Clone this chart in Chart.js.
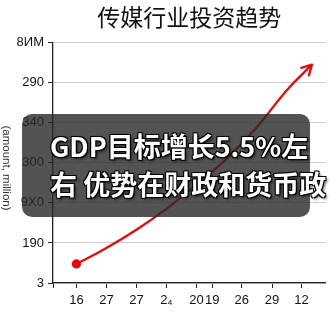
<!DOCTYPE html>
<html><head><meta charset="utf-8">
<script src="https://cdn.jsdelivr.net/npm/chart.js@4/dist/chart.umd.min.js"></script>
<style>
html,body{margin:0;padding:0;background:#fff;}
#wrap{position:relative;width:332px;height:332px;overflow:hidden;background:#fff;}
canvas{position:absolute;left:0;top:0;}
#box{position:absolute;left:22px;top:114px;width:288px;height:103px;border-radius:10px;background:rgba(40,40,40,0.8);}
#txt{position:absolute;left:50px;top:127px;font-family:"Noto Sans CJK SC";font-weight:bold;font-size:27px;line-height:38px;color:#fff;white-space:nowrap;
text-shadow:0 0 2px #000,1px 1px 0 #000,-1px -1px 0 #000,1px -1px 0 #000,-1px 1px 0 #000,2px 2px 3px rgba(0,0,0,.6);}
</style></head>
<body><div id="wrap"><canvas id="c" width="332" height="332"></canvas><div id="box"></div><div id="txt">GDP目标增长5.5%左<br>右 优势在财政和货币政</div></div>
<script>
const titleText = "传媒行业投资趋势";
const yAxisTitle = "(amount, million)";
const yTickLabels = ["3","190","9X0","300","340","290","8ИM"];
const xTickValues = [-0.78,0,1,2,3,4,4.53,5.51,6.52,7.5];
const xTickLabels = ["","16","27","27","2₄","20","19","26","29","12"];
const xValues = [0,1,2,3,4,5,6,7,7.85];
const yValues = [0.475,0.875,1.33,1.85,2.45,3.1,3.875,4.8,5.45];

const RED = 'rgb(232,10,10)';
const extras = {
  id:'extras',
  afterDatasetsDraw(chart){
    const ctx = chart.ctx;
    const pts = chart.getDatasetMeta(0).data;
    const p1 = pts[pts.length-1];
    let bx = p1.cp1x, by = p1.cp1y;
    if (bx === undefined || (Math.abs(bx-p1.x)<0.5 && Math.abs(by-p1.y)<0.5)) { bx = pts[pts.length-2].x; by = pts[pts.length-2].y; }
    const ang = Math.atan2(p1.y-by, p1.x-bx);
    const L = 11, a = 0.5;
    ctx.save();
    ctx.strokeStyle = RED; ctx.lineWidth = 2.4; ctx.lineCap='round'; ctx.lineJoin='round';
    ctx.beginPath();
    ctx.moveTo(p1.x - L*Math.cos(ang-a), p1.y - L*Math.sin(ang-a));
    ctx.lineTo(p1.x, p1.y);
    ctx.lineTo(p1.x - L*Math.cos(ang+a), p1.y - L*Math.sin(ang+a));
    ctx.stroke();
    ctx.restore();
  },
  afterDraw(chart){
    const ctx = chart.ctx;
    ctx.save();
    ctx.translate(6, 168);
    ctx.rotate(Math.PI/2);
    ctx.font = '11.5px "Liberation Sans"';
    ctx.fillStyle = '#333';
    ctx.textAlign = 'center'; ctx.textBaseline = 'middle';
    ctx.fillText(yAxisTitle, 0, 0);
    ctx.restore();
  }
};

const tickFont = {family:'"Liberation Sans"', size:13};
new Chart(document.getElementById('c'), {
  type:'line',
  data:{datasets:[{
    data: xValues.map((x,i)=>({x:x, y:yValues[i]})),
    borderColor: RED, borderWidth: 2.3, tension: 0.4,
    pointRadius: xValues.map((x,i)=> i===0 ? 3.5 : 0),
    pointBackgroundColor: RED, pointBorderColor: RED, fill:false
  }]},
  options:{
    responsive:false, animation:false, devicePixelRatio:1,
    layout:{padding:0},
    plugins:{
      legend:{display:false}, tooltip:{enabled:false},
      title:{display:true, text:titleText, fullSize:false, color:'#111',
        font:{family:'"Noto Sans CJK SC"', size:23, weight:'normal'}, padding:{top:3,bottom:12}}
    },
    scales:{
      x:{type:'linear', min:-0.78, max:8.31,
        afterBuildTicks: a => { a.ticks = xTickValues.map(v=>({value:v})); },
        afterFit: a => { a.height = 49; },
        ticks:{autoSkip:false, maxRotation:0, minRotation:0, padding:5, color:'#111', font:tickFont,
          callback:(v,i)=>xTickLabels[i]},
        grid:{drawOnChartArea:false, tickLength:5, tickColor:'#222'},
        border:{color:'#222', width:1.3}
      },
      y:{min:0, max:6,
        afterFit: a => { a.width = 53; },
        ticks:{stepSize:1, padding:4, color:'#111', font:tickFont, callback:(v)=>yTickLabels[v]},
        grid:{color:'#cfcfcf', tickColor:'#222', tickLength:5},
        border:{color:'#222', width:1.3}
      }
    }
  },
  plugins:[extras]
});
</script>
</body></html>
